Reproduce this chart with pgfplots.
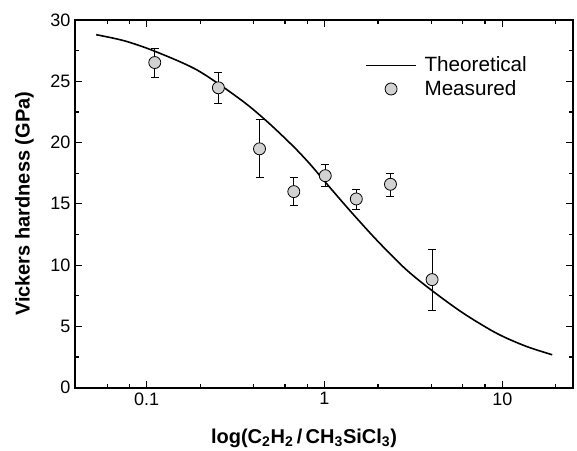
\documentclass[border=0pt]{standalone}
\usepackage{pgfplots}
\pgfplotsset{compat=1.18}
\usepackage{fontspec}
\setmainfont{Liberation Sans}

\definecolor{markfill}{RGB}{210,210,210}
\pgfplotsset{longline/.style={legend image code/.code={\draw[##1] (-0.35cm,0cm) -- (0.95cm,0cm);}}}

\begin{document}
\begin{tikzpicture}
\useasboundingbox (-56.25pt,-46.7pt) rectangle (376.5pt,290.8pt);
\begin{axis}[
    at={(0,0)}, anchor=south west,
    width=373.5pt, height=275.8pt, scale only axis,
    xmode=log, log basis x=10,
    xmin=0.0395, xmax=25,
    ymin=0, ymax=30,
    xtick={0.1,1,10}, xticklabels={0.1,1,10},
    minor xtick={0.06,0.08,0.2,0.4,0.6,0.8,2,4,6,8,20},
    ytick={0,5,10,15,20,25,30},
    minor y tick num=1,
    tick align=inside,
    major tick length=5pt, minor tick length=3pt,
    every tick/.style={black, line width=0.9pt},
    axis line style={line width=1.2pt},
    /pgf/number format/assume math mode=true,
    tick label style={font=\fontsize{13.5}{16}\selectfont},
    xlabel={log(C\textsubscript{2}H\textsubscript{2}\,/\,CH\textsubscript{3}SiCl\textsubscript{3})},
    ylabel={Vickers hardness (GPa)},
    label style={font=\fontsize{15}{18}\selectfont\bfseries},
    xlabel style={at={(axis description cs:0.46,0)}, anchor=base, yshift=-41.5pt, inner sep=0pt},
    ylabel style={at={(axis description cs:-0.1205,0.5)}, anchor=north, inner sep=0pt},
    legend style={draw=none, fill=none, at={(axis description cs:0.575,0.915)}, anchor=north west,
        font=\fontsize{15.5}{18}\selectfont, row sep=1pt,
        /tikz/every odd column/.append style={column sep=4pt}},
    legend cell align=left,
]

\addplot[black, line width=1.2pt, smooth, longline]
coordinates {
    (0.052, 28.8)
    (0.075, 28.3)
    (0.111, 27.45)
    (0.193, 25.9)
    (0.338, 23.5)
    (0.477, 21.7)
    (0.672, 19.65)
    (0.834, 18.2)
    (1.035, 16.6)
    (1.40, 14.4)
    (1.98, 12.0)
    (2.85, 9.7)
    (4.03, 7.92)
    (6.05, 6.07)
    (9.3, 4.44)
    (13.5, 3.4)
    (19.1, 2.69)
};
\addlegendentry{Theoretical}

\addplot[only marks, mark=*, mark size=4.5pt,
    mark options={fill=markfill, draw=black, line width=0.6pt},
    error bars/.cd, y dir=both, y explicit,
    error bar style={black, line width=0.7pt},
    error mark options={rotate=90, mark size=3pt, line width=0.7pt, black}]
coordinates {
    (0.111, 26.53) += (0,1.14) -= (0,1.25)
    (0.253, 24.47) += (0,1.23) -= (0,1.27)
    (0.431, 19.49) += (0,2.36) -= (0,2.35)
    (0.672, 16.0)  += (0,1.17) -= (0,1.17)
    (1.01, 17.3)   += (0,0.88) -= (0,0.89)
    (1.51, 15.4)   += (0,0.76) -= (0,0.84)
    (2.35, 16.6)   += (0,0.9)  -= (0,1.0)
    (4.03, 8.82)   += (0,2.45) -= (0,2.48)
};
\addlegendentry{Measured}

\end{axis}
\end{tikzpicture}
\end{document}
